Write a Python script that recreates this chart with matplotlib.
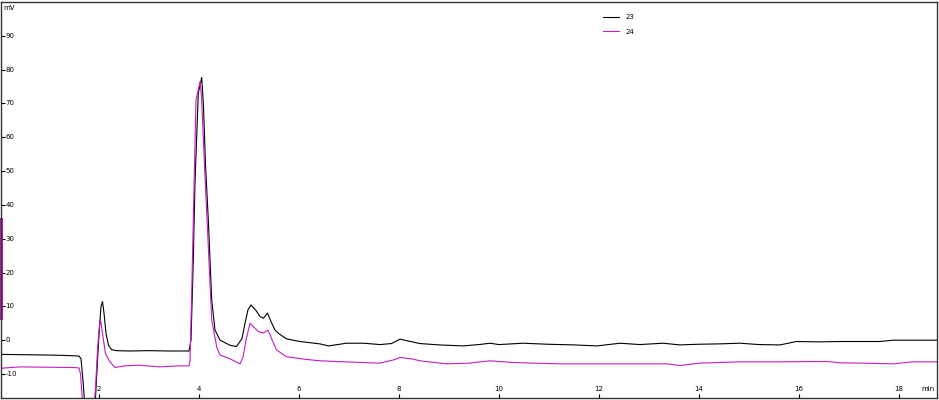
import numpy as np
import matplotlib
matplotlib.use("Agg")
import matplotlib.pyplot as plt

# -----------------------------
# Data (time in min, signal in mV)
# -----------------------------
t_23 = [0.04, 0.5, 1.0, 1.3, 1.6, 1.64, 1.68, 1.72, 1.76, 1.86, 1.93, 1.97, 2.01, 2.04, 2.07,
        2.1, 2.14, 2.19, 2.25, 2.35, 2.6, 3.0, 3.4, 3.8, 3.84, 3.886, 3.92, 3.986, 4.054,
        4.09, 4.13, 4.186, 4.254, 4.32, 4.42, 4.62, 4.75, 4.86, 4.92, 4.98, 5.04, 5.14, 5.22, 5.29,
        5.37, 5.44, 5.52, 5.59, 5.75, 6.02, 6.42, 6.59, 6.95, 7.29, 7.62, 7.85, 8.02, 8.2,
        8.42, 8.8, 9.28, 9.6, 9.82, 10.0, 10.48, 10.96, 11.5, 11.96, 12.42, 12.82, 13.28,
        13.62, 14.0, 14.4, 14.82, 15.2, 15.62, 15.95, 16.4, 16.82, 17.3, 17.62, 17.88, 18.3,
        18.76]
v_23 = [-4.2, -4.3, -4.4, -4.5, -4.7, -5.5, -12, -20, -25, -25, -17, -6, 4, 10, 11.4,
        8, 2, -1.5, -2.8, -3.1, -3.2, -3.1, -3.2, -3.2, 0, 23.7, 46.6, 73, 77.7,
        69, 52, 35.6, 11.9, 3, 0, -1.5, -1.9, 0.5, 5, 9, 10.4, 8.8, 7.0, 6.5,
        8, 5.5, 3, 2, 0.4, -0.4, -1.1, -1.7, -0.9, -0.9, -1.3, -1.0, 0.3, -0.3,
        -1.0, -1.4, -1.7, -1.3, -0.9, -1.3, -0.9, -1.2, -1.4, -1.7, -0.9, -1.3, -0.9,
        -1.4, -1.2, -1.1, -0.9, -1.3, -1.4, -0.4, -0.5, -0.4, -0.4, -0.4, 0, 0,
        0]

t_24 = [0.04, 0.42, 1.0, 1.5, 1.6, 1.63, 1.67, 1.70, 1.88, 1.93, 1.97, 2.0, 2.03, 2.07,
        2.13, 2.22, 2.32, 2.5, 2.8, 3.2, 3.6, 3.8, 3.82, 3.854, 3.9, 3.94, 4.02, 4.05,
        4.1, 4.186, 4.254, 4.354, 4.42, 4.62, 4.82, 4.88, 4.94, 5.02, 5.19, 5.29, 5.38,
        5.45, 5.55, 5.75, 6.15, 6.42, 7.08, 7.62, 7.9, 8.02, 8.28, 8.42, 8.95, 9.4, 9.82,
        10.28, 10.7, 11.22, 12.0, 12.8, 13.36, 13.62, 14.0, 14.82, 15.62, 16.55, 16.82,
        17.3, 17.88, 18.28, 18.76]
v_24 = [-8.3, -7.9, -8.0, -8.1, -8.2, -10, -18, -25, -25, -14, -3, 3, 6.0, 2,
        -4, -6.4, -8.1, -7.6, -7.4, -7.9, -7.6, -7.6, -6, 14, 45, 71, 76.5, 72,
        55, 27.6, 6, -2, -4.4, -5.5, -7.0, -5, 0, 5, 2.5, 2.1, 3,
        0.5, -2.9, -4.9, -5.7, -6.1, -6.5, -6.8, -5.8, -5.1, -5.6, -6.1, -7.0, -6.8, -6.1,
        -6.6, -6.8, -7.0, -7.0, -7.0, -7.0, -7.5, -6.8, -6.4, -6.4, -6.3, -6.7,
        -6.8, -7.0, -6.4, -6.4]

xticks = [2, 4, 6, 8, 10, 12, 14, 16, 18]
yticks = [-10, 0, 10, 20, 30, 40, 50, 60, 70, 80, 90]
labels = ["23", "24"]
colors = ["black", "#c21cc2"]

# magenta marker on the left axis (mV range)
marker_range = [6.6, 35.9]

# -----------------------------
# Plot
# -----------------------------
fig = plt.figure(figsize=(9.39, 4.00), dpi=100)
ax = fig.add_axes([1 / 939, 2 / 400, 936 / 939, 396 / 400])

ax.plot(t_23, v_23, color=colors[0], lw=0.8, label=labels[0])
ax.plot(t_24, v_24, color=colors[1], lw=0.8, label=labels[1])

ax.set_xlim(0.04, 18.76)
ax.set_ylim(-17.1, 100.0)

for s in ax.spines.values():
    s.set_color("#333333")
    s.set_linewidth(1.0)

ax.set_xticks(xticks)
ax.set_yticks(yticks)
ax.tick_params(direction="in", length=3, width=0.8, colors="black",
               labelbottom=False, labelleft=False)

fs = 5
for v in yticks:
    ax.text(0.005, v, str(v), transform=ax.get_yaxis_transform(),
            fontsize=fs, ha="left", va="center")
for t in xticks:
    ax.text(t, 0.022, str(t), transform=ax.get_xaxis_transform(),
            fontsize=fs, ha="center", va="center")
ax.text(0.003, 0.985, "mV", transform=ax.transAxes, fontsize=fs, ha="left", va="center")
ax.text(0.997, 0.022, "min", transform=ax.transAxes, fontsize=fs, ha="right", va="center")

ax.plot([0, 0], marker_range, transform=ax.get_yaxis_transform(),
        color=colors[1], lw=2.2, clip_on=False)

ax.legend(loc="upper left", bbox_to_anchor=(0.636, 0.985), frameon=False,
          fontsize=fs, handlelength=2.3, handletextpad=1.0, labelspacing=1.2)

plt.savefig("out.png", dpi=100)
plt.close()
